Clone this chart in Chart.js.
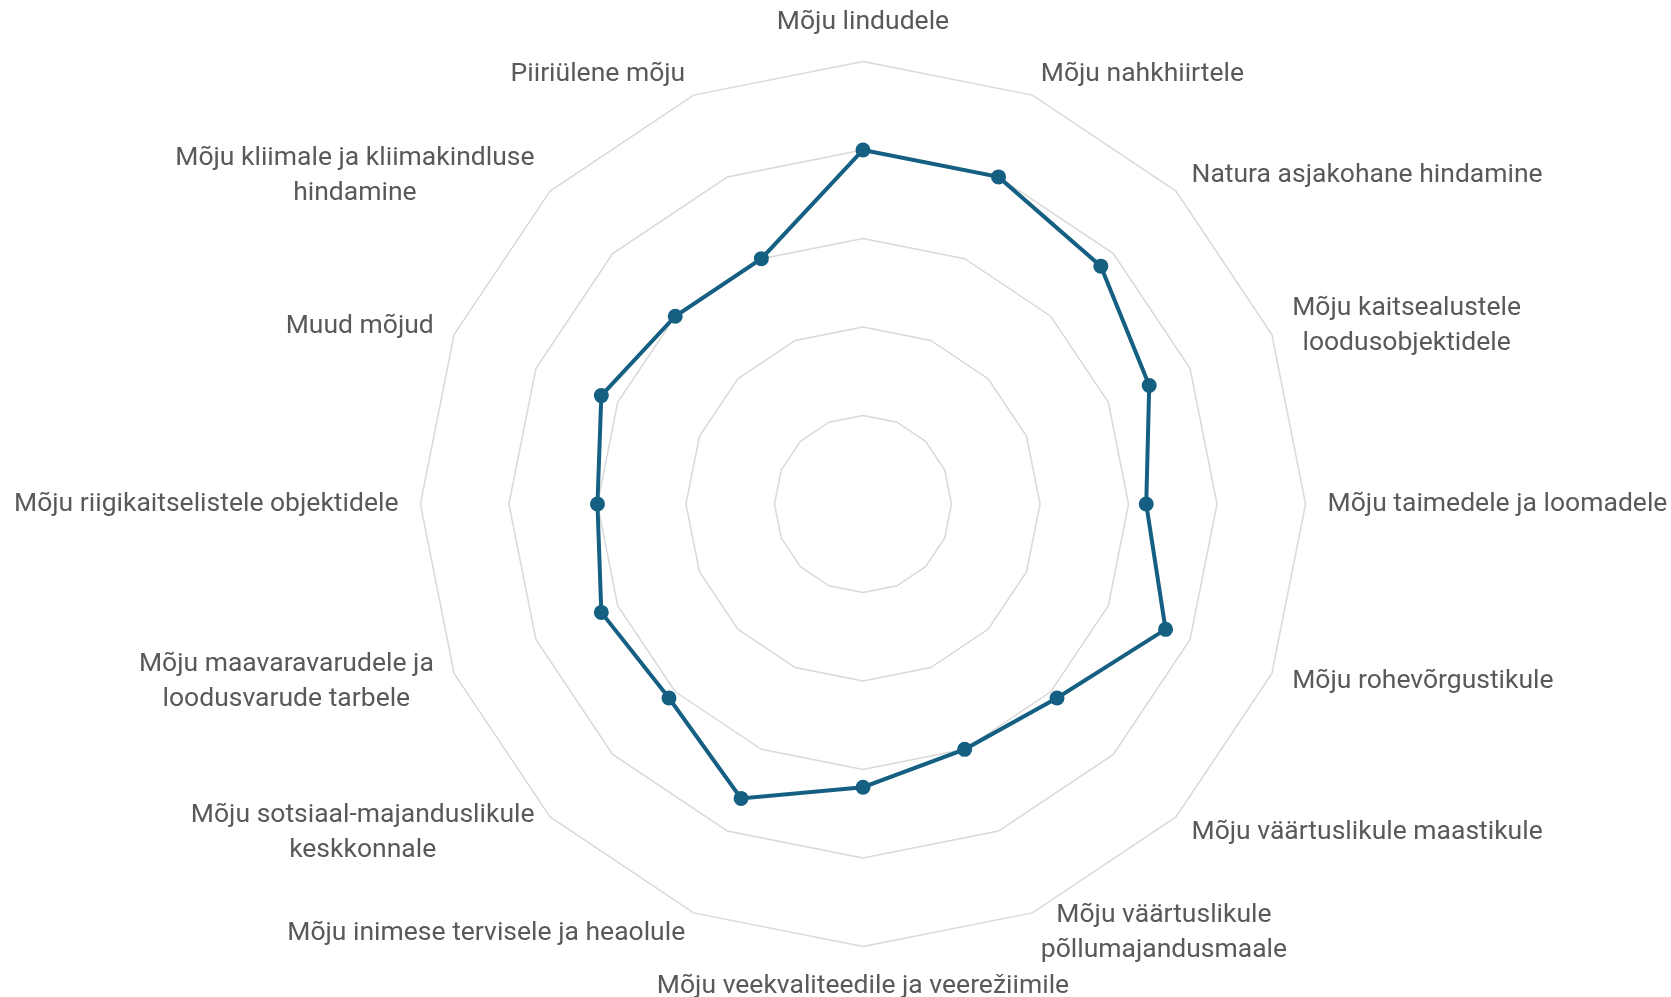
<!DOCTYPE html>
<html>
<head>
<meta charset="utf-8">
<script src="https://cdn.jsdelivr.net/npm/chart.js@4.4.1/dist/chart.umd.min.js"></script>
<style>
  html, body { margin: 0; padding: 0; background: #fff; overflow: hidden; }
  /* a bit larger than the window so the rings get the same size as in the original */
  #wrap { position: absolute; left: -8px; top: -20px; width: 1698px; height: 1049px; }
</style>
</head>
<body>
<div id="wrap"><canvas id="myChart"></canvas></div>
<script>
// categories, clockwise from the top
const categories = [
  "Mõju lindudele",
  "Mõju nahkhiirtele",
  "Natura asjakohane hindamine",
  ["Mõju kaitsealustele", "loodusobjektidele"],
  "Mõju taimedele ja loomadele",
  "Mõju rohevõrgustikule",
  "Mõju väärtuslikule maastikule",
  ["Mõju väärtuslikule", "põllumajandusmaale"],
  "Mõju veekvaliteedile ja veerežiimile",
  "Mõju inimese tervisele ja heaolule",
  ["Mõju sotsiaal-majanduslikule", "keskkonnale"],
  ["Mõju maavaravarudele ja", "loodusvarude tarbele"],
  "Mõju riigikaitselistele objektidele",
  "Muud mõjud",
  ["Mõju kliimale ja kliimakindluse", "hindamine"],
  "Piiriülene mõju"
];

// series values
const scores = [4.0, 4.0, 3.8, 3.5, 3.2, 3.7, 3.1, 3.0, 3.2, 3.6, 3.1, 3.2, 3.0, 3.2, 3.0, 3.0];

// axis range
const scaleMin = 0;
const scaleMax = 5;
const scaleStep = 1;

// put the category labels the way Excel does: centred on the spoke direction
// instead of sitting fully above / below it, and centre multi-line labels
const excelLabels = {
  id: "excelLabels",
  afterLayout(chart) {
    const scale = chart.scales.r;
    const items = scale._pointLabelItems || [];
    items.forEach((item, i) => {
      const deg = Math.round((scale.getIndexAngle(i) * 180) / Math.PI) % 360;
      const h = item.bottom - item.top;
      if (deg !== 0 && deg !== 180 && deg !== 90 && deg !== 270) {
        const shift = deg < 90 || deg > 270 ? h / 2 : -h / 2;
        item.y += shift;
        item.top += shift;
        item.bottom += shift;
      }
      item.textAlign = "center";
      item.x = (item.left + item.right) / 2;
    });
  },
};

let ctx = document.getElementById("myChart").getContext("2d");
let myChart = new Chart(ctx, {
  type: "radar",
  data: {
    labels: categories,
    datasets: [
      {
        label: "Hinnang",
        data: scores,
        borderColor: "#156082",
        backgroundColor: "rgba(0,0,0,0)",
        borderWidth: 4,
        pointRadius: 7.5,
        pointBorderWidth: 0,
        pointBackgroundColor: "#156082",
        fill: false,
        tension: 0,
      },
    ],
  },
  plugins: [excelLabels],
  options: {
    responsive: true,
    maintainAspectRatio: false,
    animation: false,
    layout: { padding: 0 },
    plugins: {
      legend: { display: false },
      tooltip: { enabled: false },
    },
    scales: {
      r: {
        min: scaleMin,
        max: scaleMax,
        ticks: { stepSize: scaleStep, display: false },
        angleLines: { display: false },
        grid: { color: "#d9d9d9", lineWidth: 1.5 },
        pointLabels: {
          color: "#595959",
          padding: 22,
          font: { family: "Roboto", size: 26.5, lineHeight: 1.32 },
        },
      },
    },
  },
});
</script>
</body>
</html>
